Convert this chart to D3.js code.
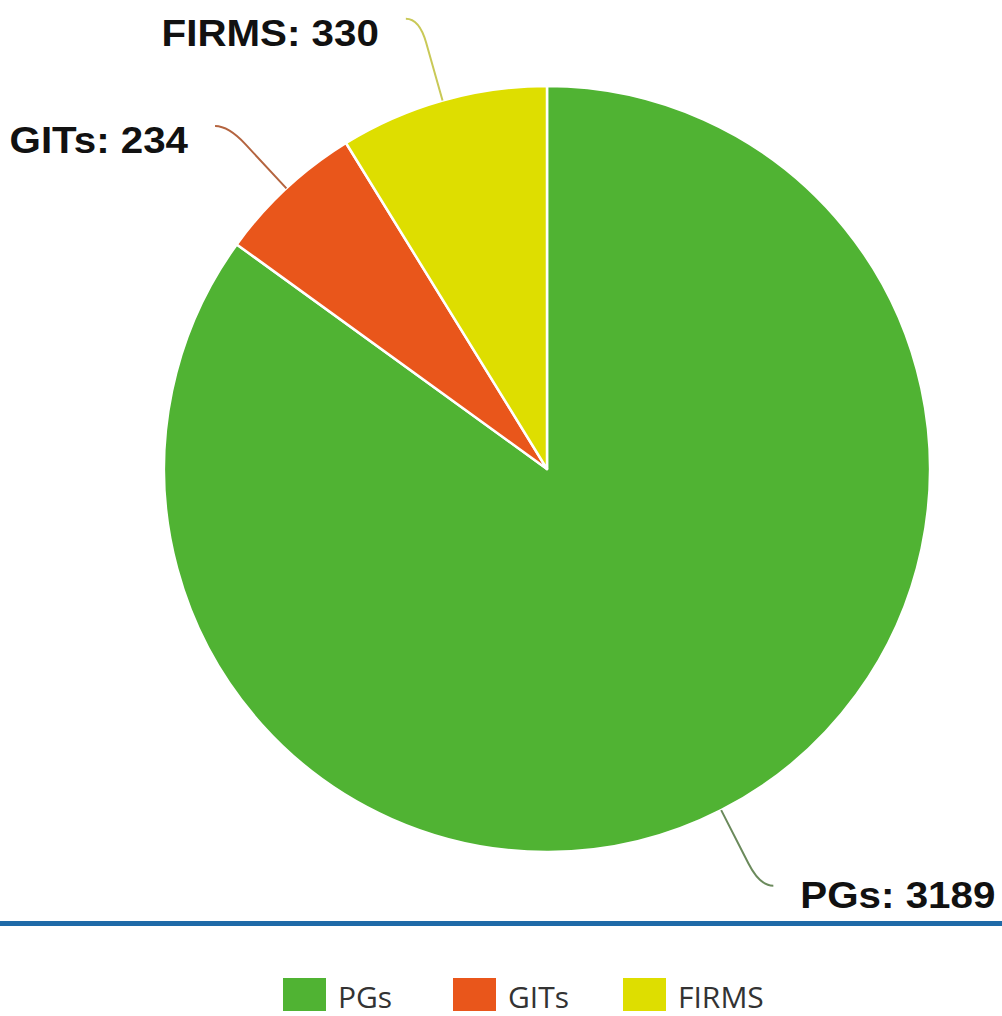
<!DOCTYPE html>
<html>
<head>
<meta charset="utf-8">
<script src="https://cdn.jsdelivr.net/npm/d3@7"></script>
<style>
  body { margin: 0; background: #fff; }
  svg { display: block; }
</style>
</head>
<body>
<div id="chart"></div>
<script>
// slice data, in drawing order (clockwise from 12 o'clock)
const categories = ["PGs", "GITs", "FIRMS"];
const values = [3189, 234, 330];
const colors = ["#50b333", "#e9561b", "#dede00"];
const lineColors = ["#6b8a5c", "#b4643f", "#c9c957"];

const width = 1002, height = 1016;
const cx = 547, cy = 469, radius = 383;

const svg = d3.select("#chart").append("svg")
  .attr("width", width)
  .attr("height", height);

const pie = d3.pie().sort(null).value(d => d.value);
const arcs = pie(categories.map((c, i) => ({ name: c, value: values[i], i: i })));

const arc = d3.arc().innerRadius(0).outerRadius(radius);

const g = svg.append("g").attr("transform", `translate(${cx},${cy})`);

g.selectAll("path.slice")
  .data(arcs)
  .enter()
  .append("path")
  .attr("class", "slice")
  .attr("d", arc)
  .attr("fill", d => colors[d.data.i])
  .attr("stroke", "#fff")
  .attr("stroke-width", 2.5)
  .attr("stroke-linejoin", "round");

// leader lines: radial out from the slice middle, then crook sideways
const connDist = 85, crook = 13.5;

function leader(d) {
  const a = (d.startAngle + d.endAngle) / 2;
  const ux = Math.sin(a), uy = -Math.cos(a);
  const dir = ux >= 0 ? 1 : -1;
  const s = [radius * ux, radius * uy];
  const m = [(radius + connDist - 25) * ux, (radius + connDist - 25) * uy];
  const c = [(radius + connDist) * ux, (radius + connDist) * uy];
  const e = [c[0] + dir * crook, c[1]];
  const p = d3.path();
  p.moveTo(s[0], s[1]);
  p.lineTo(m[0], m[1]);
  p.quadraticCurveTo(c[0], c[1], e[0], e[1]);
  return { path: p.toString(), end: e, dir: dir, top: uy < 0 };
}

const leaders = arcs.map(d => ({ d: d, l: leader(d) }));

g.selectAll("path.leader")
  .data(leaders)
  .enter()
  .append("path")
  .attr("class", "leader")
  .attr("d", o => o.l.path)
  .attr("fill", "none")
  .attr("stroke", o => lineColors[o.d.data.i])
  .attr("stroke-width", 2);

g.selectAll("text.label")
  .data(leaders)
  .enter()
  .append("text")
  .attr("class", "label")
  .attr("transform", o => `translate(${o.l.end[0] + o.l.dir * 27},${o.l.end[1] + (o.l.top ? 27 : 22)}) scale(1.09,1)`)
  .attr("text-anchor", o => o.l.dir > 0 ? "start" : "end")
  .attr("font-family", "Liberation Sans, Arial, sans-serif")
  .attr("font-weight", "bold")
  .attr("font-size", 37)
  .attr("fill", "#111")
  .text(o => `${o.d.data.name}: ${o.d.data.value}`);

// separator rule
svg.append("rect")
  .attr("x", 0).attr("y", 921)
  .attr("width", width).attr("height", 5)
  .attr("fill", "#1f6aa8");

// legend
const legendX = d3.scalePoint().domain(categories).range([283, 623]);

const leg = svg.selectAll("g.legend")
  .data(categories)
  .enter()
  .append("g")
  .attr("class", "legend")
  .attr("transform", d => `translate(${legendX(d)},978)`);

leg.append("rect")
  .attr("width", 43).attr("height", 33)
  .attr("fill", (d, i) => colors[i]);

leg.append("text")
  .attr("x", 55).attr("y", 30)
  .attr("font-family", "Open Sans, sans-serif")
  .attr("font-size", 30)
  .attr("fill", "#333")
  .text(d => d);
</script>
</body>
</html>
